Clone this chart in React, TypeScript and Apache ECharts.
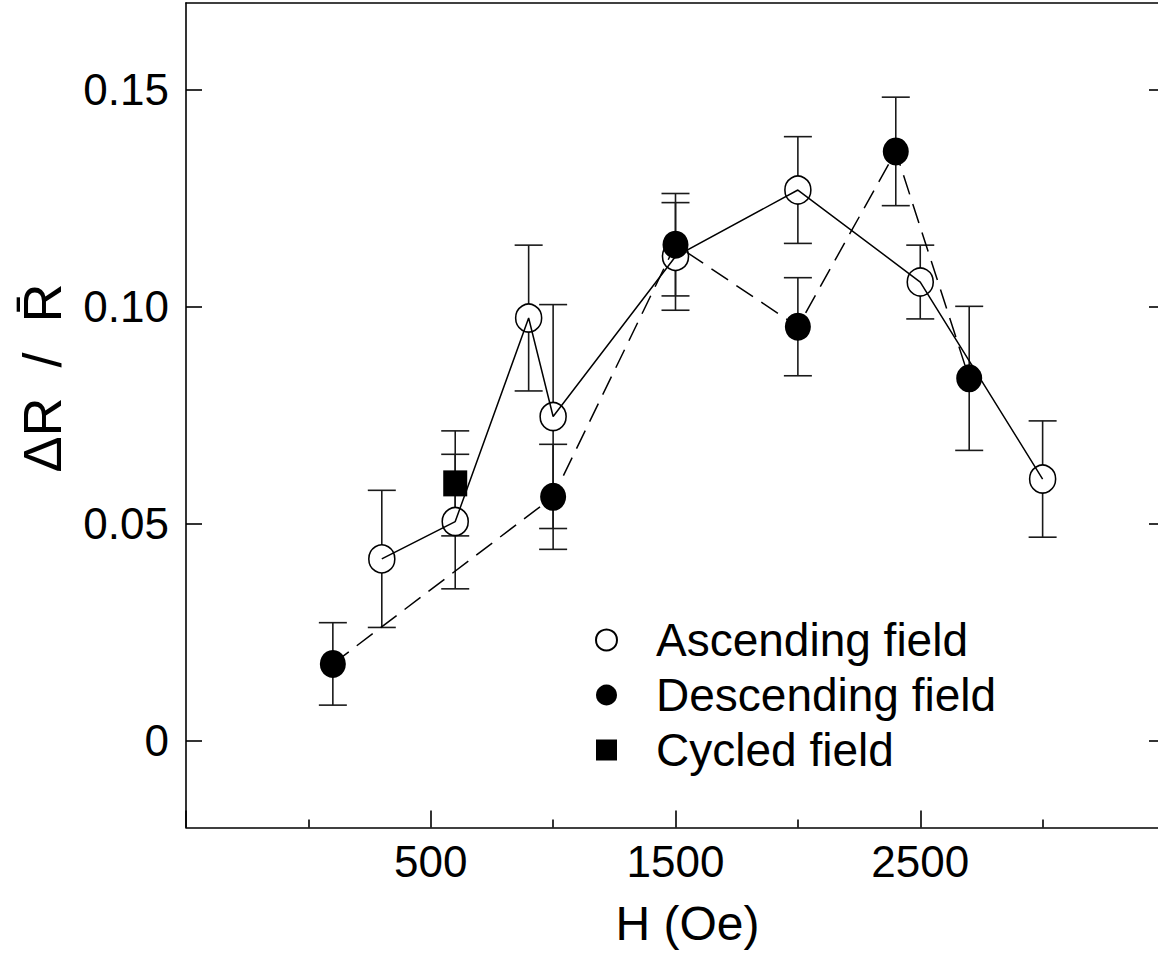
import React, { useEffect, useRef } from 'react';
import * as echarts from 'echarts';

// H (Oe) and ΔR/R̄ values
const ascH = [300, 600, 900, 1000, 1500, 2000, 2500, 3000];
const ascVal = [0.0419, 0.0505, 0.0974, 0.0747, 0.1116, 0.1269, 0.1057, 0.0603];
const ascErr = [0.0158, 0.0155, 0.0168, 0.0258, 0.0124, 0.0123, 0.0085, 0.0134];

const descH = [100, 1000, 1500, 2000, 2400, 2700];
const descVal = [0.0177, 0.0562, 0.1143, 0.0954, 0.1358, 0.0835];
const descErr = [0.0095, 0.0121, 0.0118, 0.0113, 0.0125, 0.0166];

const cycH = [600];
const cycVal = [0.0593];
const cycErr = [0.0121];

const yTicks = [0, 0.05, 0.1, 0.15];
const xLabelValues = [500, 1500, 2500];

const FONT = "'Liberation Sans', Arial, sans-serif";

const pts = (h: number[], v: number[]) => h.map((x, i) => [x, v[i]]);
const errs = (h: number[], v: number[], e: number[]) => h.map((x, i) => [x, v[i] - e[i], v[i] + e[i]]);

const errRender = (_params: any, api: any) => {
  const x = api.value(0);
  const lo = api.value(1);
  const hi = api.value(2);
  const a = api.coord([x, hi]);
  const b = api.coord([x, lo]);
  const w = 14;
  const st = { stroke: '#1a1a1a', lineWidth: 1.6 };
  return {
    type: 'group',
    children: [
      { type: 'line', shape: { x1: a[0], y1: a[1], x2: b[0], y2: b[1] }, style: st },
      { type: 'line', shape: { x1: a[0] - w, y1: a[1], x2: a[0] + w, y2: a[1] }, style: st },
      { type: 'line', shape: { x1: b[0] - w, y1: b[1], x2: b[0] + w, y2: b[1] }, style: st },
    ],
  };
};

export default function App() {
  const ref = useRef<HTMLDivElement>(null);
  useEffect(() => {
    if (!ref.current) return;
    const chart = echarts.init(ref.current, undefined, { renderer: 'svg' });
    const axisLine = { show: true, onZero: false, lineStyle: { color: '#000', width: 1.6 } };
    chart.setOption({
      animation: false,
      backgroundColor: '#fff',
      grid: { left: 186, top: 3, width: 979, height: 824.5, containLabel: false },
      xAxis: [
        {
          type: 'value',
          position: 'bottom',
          min: -500,
          max: 3500,
          interval: 1000,
          axisLine,
          axisTick: { show: true, inside: true, length: 17, lineStyle: { color: '#000', width: 1.6 } },
          minorTick: { show: true, splitNumber: 2, length: 8, lineStyle: { color: '#000', width: 1.6 } },
          splitLine: { show: false },
          axisLabel: {
            show: true,
            margin: 12,
            color: '#000',
            fontSize: 44,
            fontFamily: FONT,
            formatter: (v: number) => (xLabelValues.includes(v) ? String(v) : ''),
          },
          name: 'H (Oe)',
          nameLocation: 'middle',
          nameGap: 72,
          nameTextStyle: { color: '#000', fontSize: 48, fontFamily: FONT, padding: [0, 0, 0, 24] },
        },
        {
          type: 'value',
          position: 'top',
          min: -500,
          max: 3500,
          axisLine,
          axisTick: { show: false },
          axisLabel: { show: false },
          splitLine: { show: false },
        },
      ],
      yAxis: [
        {
          type: 'value',
          position: 'left',
          min: -0.02,
          max: 0.17,
          axisLine,
          axisTick: { show: true, inside: true, length: 16, customValues: yTicks, lineStyle: { color: '#000', width: 1.6 } },
          axisLabel: {
            show: true,
            margin: 17,
            color: '#000',
            fontSize: 44,
            fontFamily: FONT,
            customValues: yTicks,
            formatter: (v: number) => (v === 0 ? '0' : v.toFixed(2)),
          },
          splitLine: { show: false },
        },
        {
          type: 'value',
          position: 'right',
          min: -0.02,
          max: 0.17,
          axisLine,
          axisTick: { show: true, inside: true, length: 16, customValues: yTicks, lineStyle: { color: '#000', width: 1.6 } },
          axisLabel: { show: false },
          splitLine: { show: false },
        },
      ],
      legend: {
        orient: 'vertical',
        left: 590,
        top: 611,
        itemWidth: 21,
        itemHeight: 21,
        itemGap: 7,
        selectedMode: false,
        data: ['Ascending field', 'Descending field', 'Cycled field'],
        textStyle: { color: '#000', fontSize: 46, fontFamily: FONT, lineHeight: 48, padding: [0, 0, 0, 34] },
      },
      graphic: [
        {
          type: 'text',
          x: 42,
          y: 378,
          rotation: Math.PI / 2,
          style: {
            text: 'ΔR  /  R\u0304',
            fontSize: 54,
            fontFamily: FONT,
            fill: '#000',
            align: 'center',
            verticalAlign: 'middle',
          },
        },
      ],
      series: [
        {
          name: 'asc-err',
          type: 'custom',
          renderItem: errRender,
          data: errs(ascH, ascVal, ascErr),
          encode: { x: 0, y: [1, 2] },
          z: 1,
          silent: true,
        },
        {
          name: 'desc-err',
          type: 'custom',
          renderItem: errRender,
          data: errs(descH, descVal, descErr),
          encode: { x: 0, y: [1, 2] },
          z: 1,
          silent: true,
        },
        {
          name: 'cyc-err',
          type: 'custom',
          renderItem: errRender,
          data: errs(cycH, cycVal, cycErr),
          encode: { x: 0, y: [1, 2] },
          z: 1,
          silent: true,
        },
        {
          name: 'Ascending field',
          type: 'scatter',
          data: pts(ascH, ascVal),
          symbol: 'circle',
          symbolSize: [26, 28],
          itemStyle: { color: '#fff', borderColor: '#000', borderWidth: 1.6, opacity: 1 },
          z: 3,
        },
        {
          name: 'Descending field',
          type: 'scatter',
          data: pts(descH, descVal),
          symbol: 'circle',
          symbolSize: [26, 28],
          itemStyle: { color: '#000', borderColor: '#000', borderWidth: 0, opacity: 1 },
          z: 3,
        },
        {
          name: 'Cycled field',
          type: 'scatter',
          data: pts(cycH, cycVal),
          symbol: 'rect',
          symbolSize: [24, 26],
          itemStyle: { color: '#000', opacity: 1 },
          z: 3,
        },
        {
          name: 'asc-line',
          type: 'line',
          data: pts(ascH, ascVal),
          showSymbol: false,
          symbol: 'none',
          lineStyle: { color: '#000', width: 1.5, type: 'solid' },
          z: 4,
          silent: true,
        },
        {
          name: 'desc-line',
          type: 'line',
          data: pts(descH, descVal),
          showSymbol: false,
          symbol: 'none',
          lineStyle: { color: '#000', width: 1.5, type: [20, 10] },
          z: 4,
          silent: true,
        },
      ],
    });
    return () => chart.dispose();
  }, []);
  return (
    <div
      style={{ position: 'absolute', left: 0, top: 0, width: 1158, height: 963, overflow: 'hidden', background: '#fff' }}
    >
      <div ref={ref} style={{ position: 'absolute', left: 0, top: 0, width: 1180, height: 963 }} />
    </div>
  );
}
